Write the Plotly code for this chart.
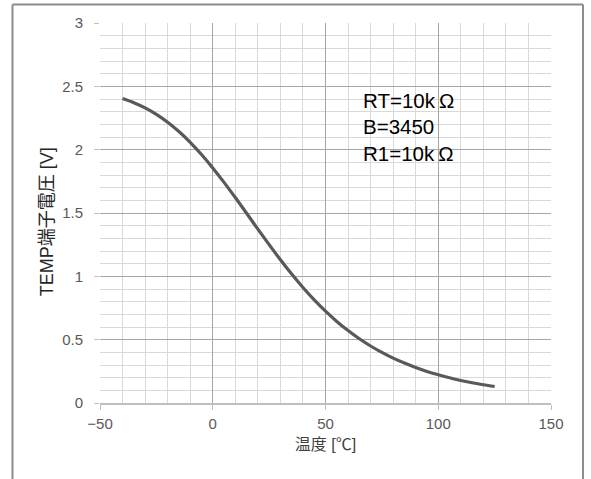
import plotly.graph_objects as go

temps = [-40, -35, -30, -25, -20, -15, -10, -5, 0, 5, 10, 15, 20, 25, 30, 35, 40, 45,
         50, 55, 60, 65, 70, 75, 80, 85, 90, 95, 100, 105, 110, 115, 120, 125]
volts = [2.404, 2.371, 2.330, 2.279, 2.217, 2.143, 2.058, 1.962, 1.856, 1.742, 1.622,
         1.498, 1.373, 1.250, 1.131, 1.018, 0.912, 0.814, 0.725, 0.644, 0.572, 0.507,
         0.450, 0.399, 0.354, 0.315, 0.280, 0.249, 0.223, 0.199, 0.178, 0.160, 0.144, 0.130]
notes = ["RT=10k\u2009Ω", "B=3450", "R1=10k\u2009Ω"]
note_x = [65.8, 65.8, 65.8]
note_y = [2.39, 2.18, 1.97]
x_ticks = [-50, 0, 50, 100, 150]
x_tick_text = ["−50", "0", "50", "100", "150"]
y_ticks = [0, 0.5, 1, 1.5, 2, 2.5, 3]
y_tick_text = ["0", "0.5", "1", "1.5", "2", "2.5", "3"]
x_title = "温度 [℃]"
y_title = "TEMP端子電圧 [V]"

font_family = "Liberation Sans, Arial, Noto Sans CJK JP, sans-serif"

fig = go.Figure()
fig.add_trace(go.Scatter(x=temps, y=volts, mode="lines",
                         line=dict(color="#595959", width=3.2, shape="spline"),
                         showlegend=False, hoverinfo="skip"))

annotations = [dict(x=xv, y=yv, xref="x", yref="y", text=t,
                    showarrow=False, xanchor="left", yanchor="middle",
                    font=dict(size=20.5, color="#000000", family=font_family))
               for t, xv, yv in zip(notes, note_x, note_y)]
annotations.append(dict(x=-0.117, y=0.476, xref="paper", yref="paper", text=y_title,
                        textangle=-90, showarrow=False, xanchor="center", yanchor="middle",
                        font=dict(size=18, color="#262626", family=font_family)))

fig.update_layout(
    width=591, height=479,
    margin=dict(l=100, r=40, t=23, b=76),
    paper_bgcolor="white", plot_bgcolor="white",
    font=dict(family=font_family, color="#595959", size=15),
    xaxis=dict(range=[-50, 150], tickvals=x_ticks, ticktext=x_tick_text,
               showgrid=True, gridcolor="#a6a6a6", gridwidth=1,
               minor=dict(dtick=10, tick0=0, showgrid=True, gridcolor="#d9d9d9", gridwidth=1),
               showline=True, linecolor="#bfbfbf", linewidth=1.5,
               ticks="outside", ticklen=5, tickcolor="#bfbfbf",
               ticklabelstandoff=1,
               zeroline=False, tickfont=dict(size=15, color="#595959"),
               title=dict(text=x_title, font=dict(size=16, color="#404040"), standoff=8)),
    yaxis=dict(range=[0, 3], tickvals=y_ticks, ticktext=y_tick_text,
               showgrid=True, gridcolor="#a6a6a6", gridwidth=1,
               minor=dict(dtick=0.1, tick0=0, showgrid=True, gridcolor="#d9d9d9", gridwidth=1),
               showline=False, ticks="outside", ticklen=5, tickcolor="#bfbfbf",
               ticklabelstandoff=8,
               zeroline=False, tickfont=dict(size=15, color="#595959")),
    annotations=annotations,
    shapes=[
        dict(type="line", xref="paper", yref="paper", x0=-0.194, x1=-0.194, y0=-0.3, y1=1.0485,
             line=dict(color="#8c8c8c", width=2)),
        dict(type="line", xref="paper", yref="paper", x0=-0.194, x1=1.071, y0=1.0485, y1=1.0485,
             line=dict(color="#8c8c8c", width=2)),
        dict(type="line", xref="paper", yref="paper", x0=1.071, x1=1.071, y0=-0.3, y1=1.0485,
             line=dict(color="#8c8c8c", width=2)),
    ],
)

fig.write_html("out.html", config={"displayModeBar": False},
               post_script="document.body.style.margin='0px';document.body.style.overflow='hidden';")
